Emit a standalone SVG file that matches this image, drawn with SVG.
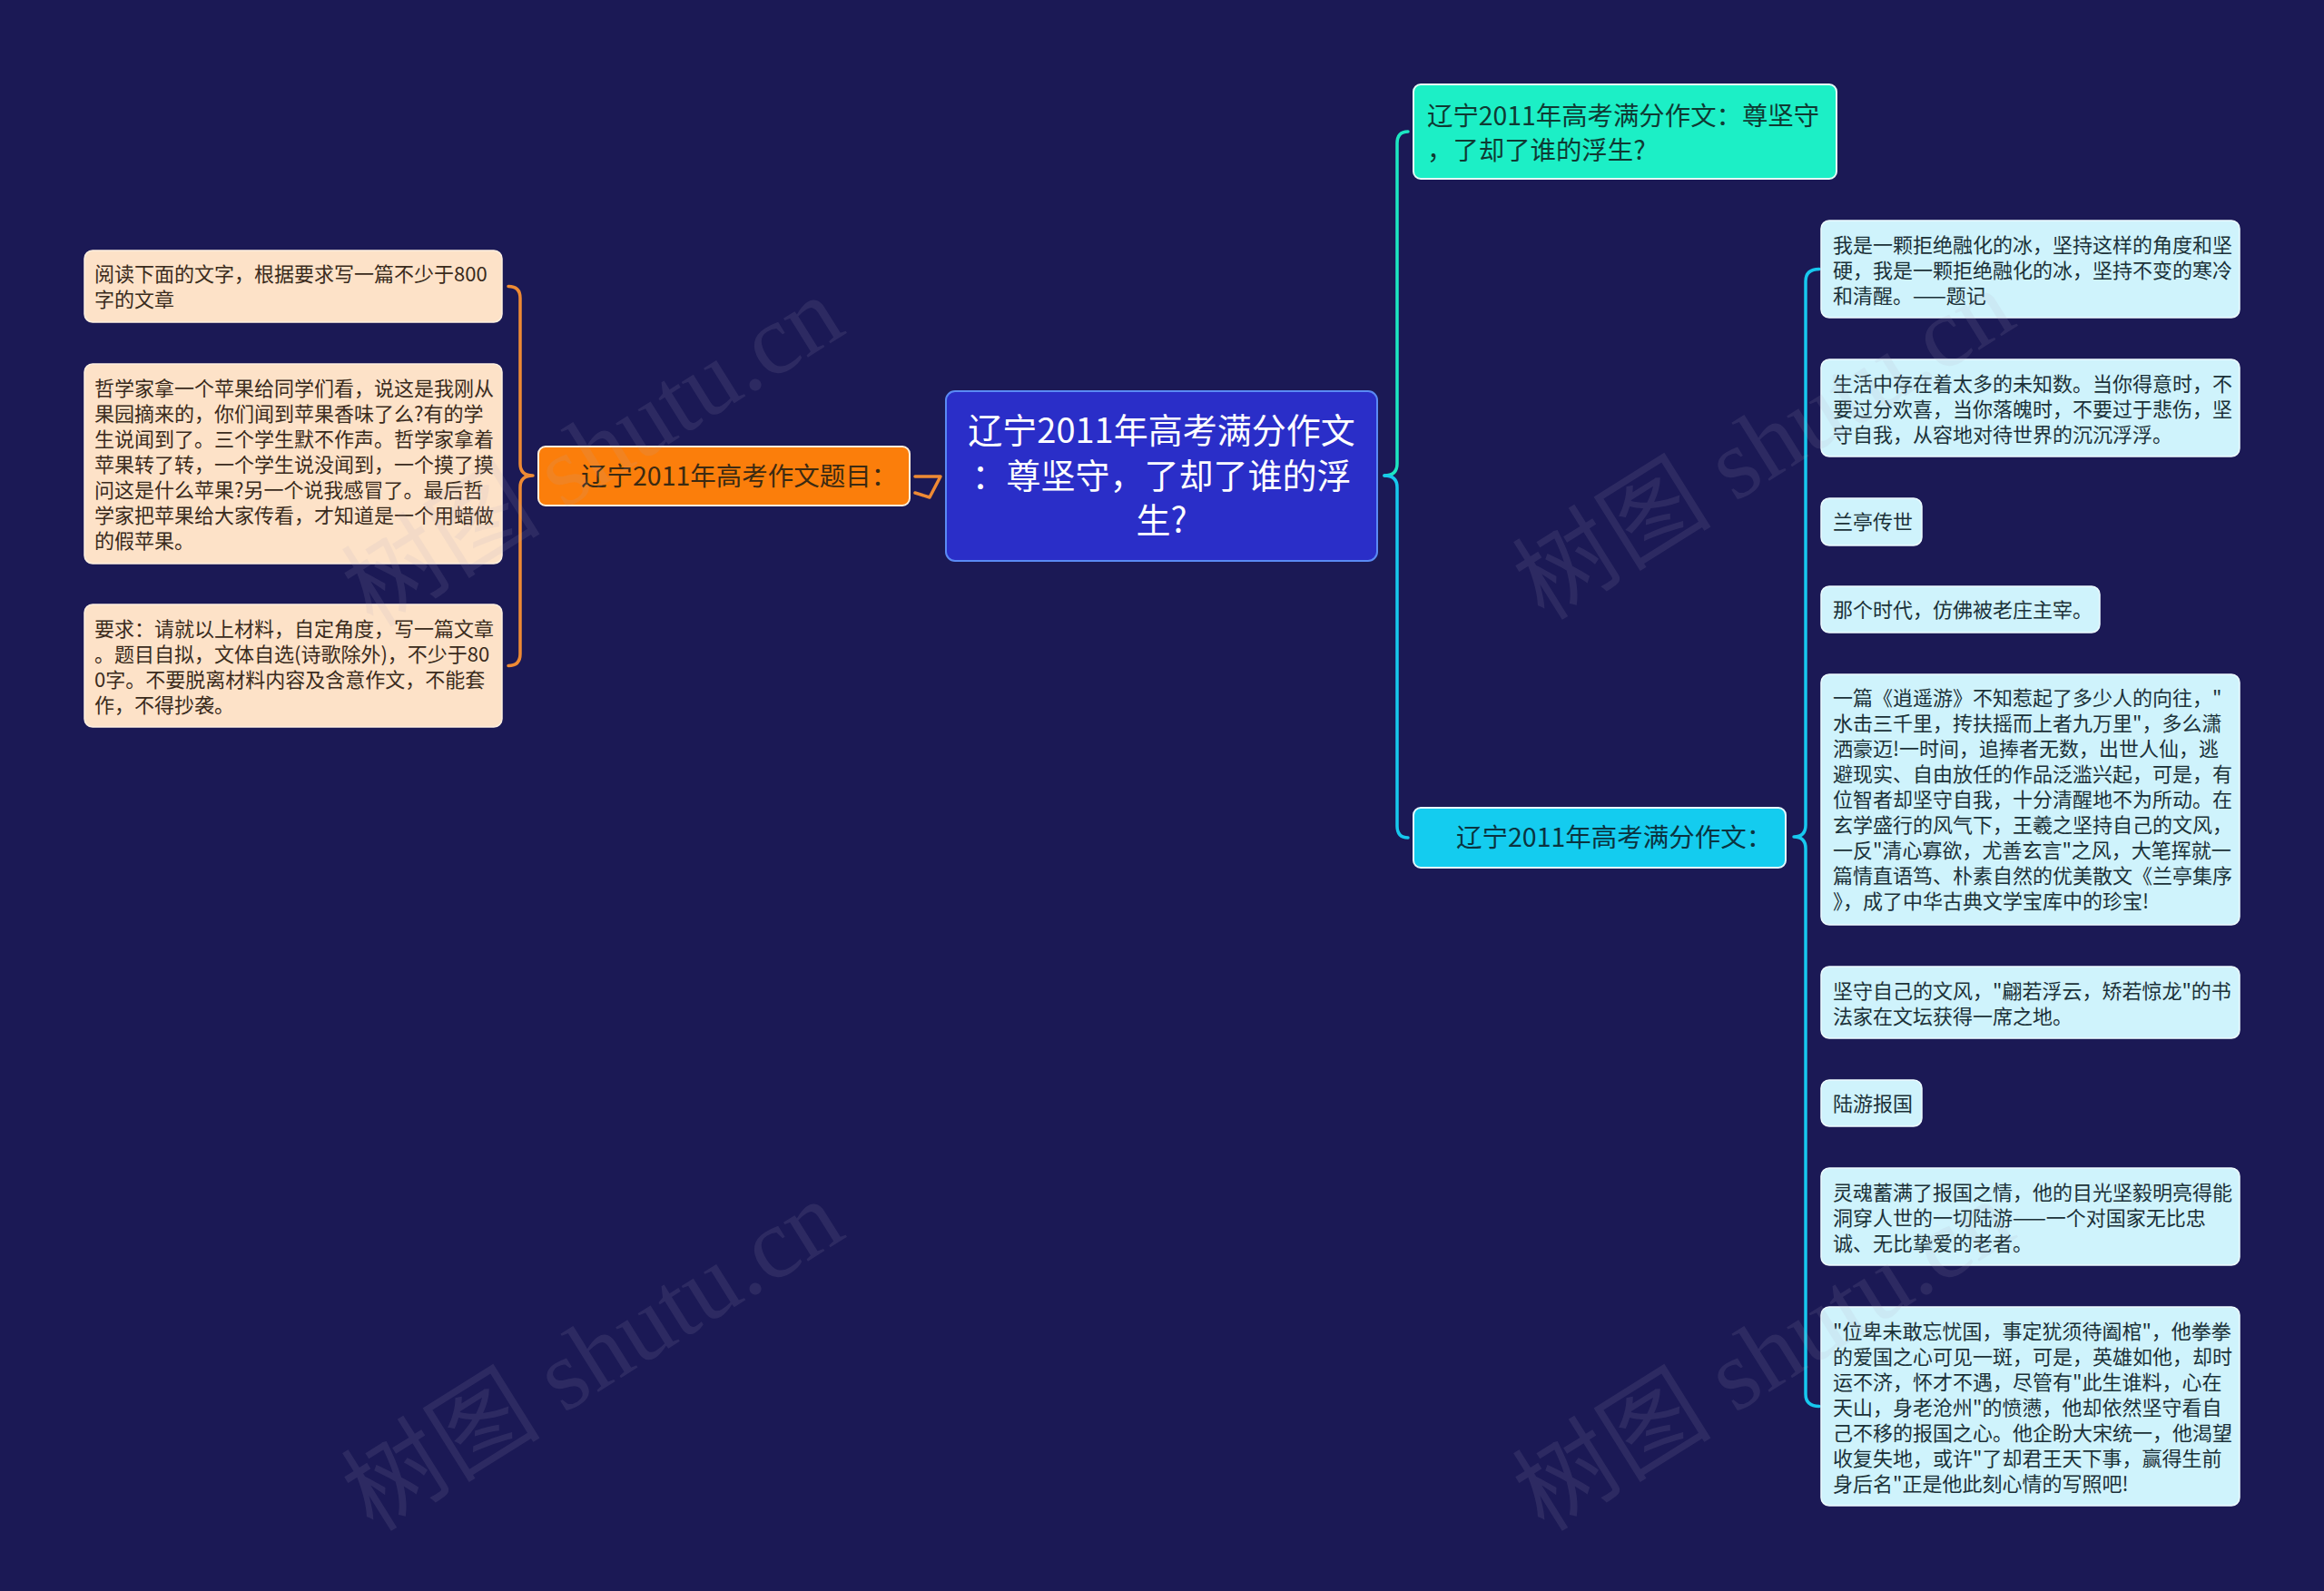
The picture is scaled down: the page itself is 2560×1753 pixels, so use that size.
<svg xmlns="http://www.w3.org/2000/svg" width="2560" height="1753" viewBox="0 0 2560 1753">
<style>
text{font-family:"Noto Sans CJK SC","Noto Sans",sans-serif;}
.lf{font-size:22px;fill:#3a2b1c;}
.rt{font-size:22px;fill:#1b3138;}
.lb{fill:#fde2c8;stroke:#fff0e0;stroke-width:1.5;}
.rb{fill:#cff3fc;stroke:#eefcff;stroke-width:1.5;}
.conn{fill:none;stroke-width:3.5;stroke-linecap:round;stroke-linejoin:round;}
.wm{font-family:"Liberation Serif","Noto Sans CJK SC",serif;font-size:110px;fill:#b0a8c0;opacity:0.12;}
</style>
<rect width="2560" height="1753" fill="#1b1955"/>

<g id="connectors">
  <path class="conn" stroke="#ee8a34" d="M560,315.5 Q573,315.5 573,328.5 L573,511 Q573,524 587,524 Q573,524 573,537 L573,720.5 Q573,733.5 560,733.5"/>
  <path class="conn" stroke="#ee8a34" d="M1008,525 L1036,525 L1024,548 M1008,543 L1024,548"/>
  <path class="conn" stroke="#1de6c2" d="M1551,145 Q1539,145 1539,158 L1539,511 Q1539,524 1525,524"/>
  <path class="conn" stroke="#17c8ee" d="M1525,524 Q1539,524 1539,537 L1539,910 Q1539,923 1551,923"/>
  <path class="conn" stroke="#17c8ee" d="M2004,296.5 Q1989,296.5 1989,310 L1989,909 Q1989,922 1976,922 Q1989,922 1989,935 L1989,1536 Q1989,1549.5 2004,1549.5"/>
</g>

<g id="center">
  <rect x="1042" y="431" width="475" height="187" rx="10" fill="#2a2ec8" stroke="#5a8af5" stroke-width="2"/>
  <text x="1279.5" y="488" font-size="38" fill="#ffffff" text-anchor="middle">辽宁2011年高考满分作文</text>
  <text x="1279.5" y="538" font-size="38" fill="#ffffff" text-anchor="middle">：尊坚守，了却了谁的浮</text>
  <text x="1279.5" y="587" font-size="38" fill="#ffffff" text-anchor="middle">生?</text>
</g>

<g id="topic-left">
  <rect x="593" y="492" width="409" height="65" rx="8" fill="#fb7e0b" stroke="#fff0dc" stroke-width="2"/>
  <text x="640" y="535" font-size="28.5" fill="#3b2a12">辽宁2011年高考作文题目：</text>
</g>

<g id="topic-teal">
  <rect x="1557" y="93" width="466" height="104" rx="8" fill="#1cefc6" stroke="#e6fff8" stroke-width="2"/>
  <text x="1572" y="138" font-size="28.4" fill="#0f3a33">辽宁2011年高考满分作文：尊坚守</text>
  <text x="1572" y="176" font-size="28.4" fill="#0f3a33">，了却了谁的浮生?</text>
</g>

<g id="topic-cyan">
  <rect x="1557" y="890" width="410" height="66" rx="8" fill="#14ccef" stroke="#e6faff" stroke-width="2"/>
  <text x="1604" y="933" font-size="28.5" fill="#0b3340">辽宁2011年高考满分作文：</text>
</g>

<g id="L1">
  <rect class="lb" x="93" y="276" width="460" height="79" rx="9"/>
  <text class="lf" x="104"><tspan x="104" y="310">阅读下面的文字，根据要求写一篇不少于800</tspan><tspan x="104" y="338">字的文章</tspan></text>
</g>
<g id="L2">
  <rect class="lb" x="93" y="401" width="460" height="220" rx="9"/>
  <text class="lf"><tspan x="104" y="436">哲学家拿一个苹果给同学们看，说这是我刚从</tspan><tspan x="104" y="464">果园摘来的，你们闻到苹果香味了么?有的学</tspan><tspan x="104" y="492">生说闻到了。三个学生默不作声。哲学家拿着</tspan><tspan x="104" y="520">苹果转了转，一个学生说没闻到，一个摸了摸</tspan><tspan x="104" y="548">问这是什么苹果?另一个说我感冒了。最后哲</tspan><tspan x="104" y="576">学家把苹果给大家传看，才知道是一个用蜡做</tspan><tspan x="104" y="604">的假苹果。</tspan></text>
</g>
<g id="L3">
  <rect class="lb" x="93" y="666" width="460" height="135" rx="9"/>
  <text class="lf"><tspan x="104" y="701">要求：请就以上材料，自定角度，写一篇文章</tspan><tspan x="104" y="729">。题目自拟，文体自选(诗歌除外)，不少于80</tspan><tspan x="104" y="757">0字。不要脱离材料内容及含意作文，不能套</tspan><tspan x="104" y="785">作，不得抄袭。</tspan></text>
</g>

<g id="R1">
  <rect class="rb" x="2006" y="243" width="461" height="107" rx="9"/>
  <text class="rt"><tspan x="2019" y="278">我是一颗拒绝融化的冰，坚持这样的角度和坚</tspan><tspan x="2019" y="306">硬，我是一颗拒绝融化的冰，坚持不变的寒冷</tspan><tspan x="2019" y="334">和清醒。——题记</tspan></text>
</g>
<g id="R2">
  <rect class="rb" x="2006" y="396" width="461" height="107" rx="9"/>
  <text class="rt"><tspan x="2019" y="431">生活中存在着太多的未知数。当你得意时，不</tspan><tspan x="2019" y="459">要过分欢喜，当你落魄时，不要过于悲伤，坚</tspan><tspan x="2019" y="487">守自我，从容地对待世界的沉沉浮浮。</tspan></text>
</g>
<g id="R3">
  <rect class="rb" x="2006" y="549" width="111" height="52" rx="9"/>
  <text class="rt" x="2019" y="583">兰亭传世</text>
</g>
<g id="R4">
  <rect class="rb" x="2006" y="646" width="307" height="51" rx="9"/>
  <text class="rt" x="2019" y="680">那个时代，仿佛被老庄主宰。</text>
</g>
<g id="R5">
  <rect class="rb" x="2006" y="743" width="461" height="276" rx="9"/>
  <text class="rt"><tspan x="2019" y="777">一篇《逍遥游》不知惹起了多少人的向往，"</tspan><tspan x="2019" y="805">水击三千里，抟扶摇而上者九万里"，多么潇</tspan><tspan x="2019" y="833">洒豪迈!一时间，追捧者无数，出世人仙，逃</tspan><tspan x="2019" y="861">避现实、自由放任的作品泛滥兴起，可是，有</tspan><tspan x="2019" y="889">位智者却坚守自我，十分清醒地不为所动。在</tspan><tspan x="2019" y="917">玄学盛行的风气下，王羲之坚持自己的文风，</tspan><tspan x="2019" y="945">一反"清心寡欲，尤善玄言"之风，大笔挥就一</tspan><tspan x="2019" y="973">篇情直语笃、朴素自然的优美散文《兰亭集序</tspan><tspan x="2019" y="1001">》，成了中华古典文学宝库中的珍宝!</tspan></text>
</g>
<g id="R6">
  <rect class="rb" x="2006" y="1065" width="461" height="79" rx="9"/>
  <text class="rt"><tspan x="2019" y="1100">坚守自己的文风，"翩若浮云，矫若惊龙"的书</tspan><tspan x="2019" y="1128">法家在文坛获得一席之地。</tspan></text>
</g>
<g id="R7">
  <rect class="rb" x="2006" y="1190" width="111" height="51" rx="9"/>
  <text class="rt" x="2019" y="1224">陆游报国</text>
</g>
<g id="R8">
  <rect class="rb" x="2006" y="1287" width="461" height="107" rx="9"/>
  <text class="rt"><tspan x="2019" y="1322">灵魂蓄满了报国之情，他的目光坚毅明亮得能</tspan><tspan x="2019" y="1350">洞穿人世的一切陆游——一个对国家无比忠</tspan><tspan x="2019" y="1378">诚、无比挚爱的老者。</tspan></text>
</g>
<g id="R9">
  <rect class="rb" x="2006" y="1440" width="461" height="219" rx="9"/>
  <text class="rt"><tspan x="2019" y="1475">"位卑未敢忘忧国，事定犹须待阖棺"，他拳拳</tspan><tspan x="2019" y="1503">的爱国之心可见一斑，可是，英雄如他，却时</tspan><tspan x="2019" y="1531">运不济，怀才不遇，尽管有"此生谁料，心在</tspan><tspan x="2019" y="1559">天山，身老沧州"的愤懑，他却依然坚守看自</tspan><tspan x="2019" y="1587">己不移的报国之心。他企盼大宋统一，他渴望</tspan><tspan x="2019" y="1615">收复失地，或许"了却君王天下事，赢得生前</tspan><tspan x="2019" y="1643">身后名"正是他此刻心情的写照吧!</tspan></text>
</g>

<g id="watermarks">
  <text class="wm" x="653" y="498" text-anchor="middle" dominant-baseline="central" transform="rotate(-32 653 498)">树图 shutu.cn</text>
  <text class="wm" x="653" y="1494" text-anchor="middle" dominant-baseline="central" transform="rotate(-32 653 1494)">树图 shutu.cn</text>
  <text class="wm" x="1943" y="490" text-anchor="middle" dominant-baseline="central" transform="rotate(-32 1943 490)">树图 shutu.cn</text>
  <text class="wm" x="1943" y="1494" text-anchor="middle" dominant-baseline="central" transform="rotate(-32 1943 1494)">树图 shutu.cn</text>
</g>
</svg>
